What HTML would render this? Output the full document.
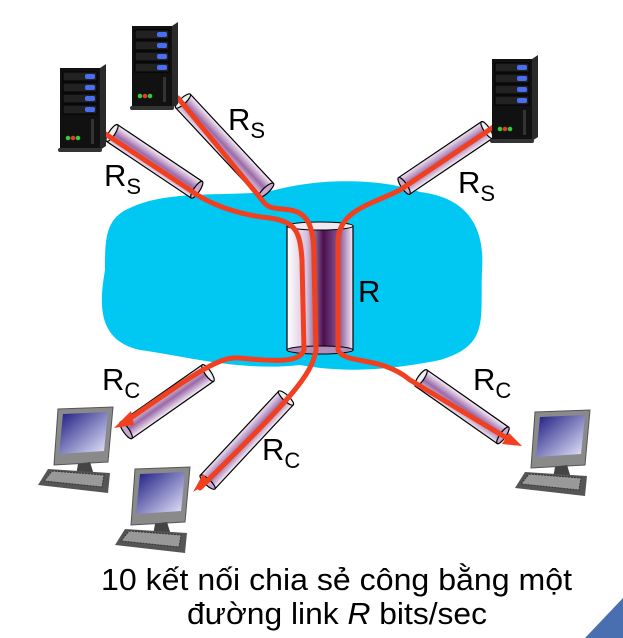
<!DOCTYPE html>
<html><head><meta charset="utf-8"><style>
html,body{margin:0;padding:0;background:#fff;}
svg{display:block;}
text{font-family:"Liberation Sans",sans-serif;fill:#000;}
</style></head><body>
<svg width="623" height="638" viewBox="0 0 623 638" xmlns="http://www.w3.org/2000/svg">
<defs>
<linearGradient id="pipe" x1="0" y1="0" x2="0" y2="1">
<stop offset="0" stop-color="#f8f0f8"/><stop offset="0.5" stop-color="#9a6aa8"/><stop offset="1" stop-color="#f0e4f0"/>
</linearGradient>
<linearGradient id="cyl" x1="0" y1="0" x2="1" y2="0">
<stop offset="0" stop-color="#fff"/><stop offset="0.3" stop-color="#d8c0dc"/><stop offset="0.55" stop-color="#4a1050"/><stop offset="0.8" stop-color="#8a5a98"/><stop offset="1" stop-color="#f4eaf4"/>
</linearGradient>
<linearGradient id="scr" x1="0" y1="0" x2="1" y2="1">
<stop offset="0" stop-color="#1a1a80"/><stop offset="1" stop-color="#e8e8ff"/>
</linearGradient>
<g id="server">
<polygon points="0,4 40,4 46,0 46,82 40,86 0,86" fill="#2a2a2a"/>
<rect x="0" y="4" width="40" height="82" fill="#111"/>
<rect x="3" y="8" width="34" height="9" fill="#222" stroke="#000"/>
<rect x="3" y="19" width="34" height="9" fill="#222" stroke="#000"/>
<rect x="3" y="30" width="34" height="9" fill="#222" stroke="#000"/>
<rect x="3" y="41" width="34" height="9" fill="#222" stroke="#000"/>
<rect x="25" y="10" width="10" height="5" rx="2" fill="#4a6ef0"/>
<rect x="25" y="21" width="10" height="5" rx="2" fill="#4a6ef0"/>
<rect x="25" y="32" width="10" height="5" rx="2" fill="#4a6ef0"/>
<rect x="25" y="43" width="10" height="5" rx="2" fill="#4a6ef0"/>
<rect x="31" y="55" width="3" height="25" fill="#333"/>
<circle cx="8" cy="74" r="2.3" fill="#3c3"/><circle cx="13" cy="74" r="2.3" fill="#e33"/><circle cx="18" cy="74" r="2.3" fill="#3c3"/>
<rect x="-2" y="84" width="44" height="4" rx="2" fill="#333"/>
</g>
<g id="pc">
<polygon points="20,2 75,0 70,55 16,58" fill="#8a8a8a" stroke="#555"/>
<polygon points="25,7 70,5 66,44 21,47" fill="url(#scr)"/>
<polygon points="40,57 52,55 56,68 38,68" fill="#444"/>
<polygon points="10,62 72,66 70,86 0,78" fill="#555"/>
<polygon points="14,64 66,68 64,80 6,74" fill="#999" stroke="#333" stroke-dasharray="2 1"/>
</g>
</defs>
<!-- cloud -->
<path d="M130,208 C170,188 240,198 275,190 C320,178 380,178 420,192 C470,198 485,230 482,270 C480,320 490,345 440,360 C380,372 340,372 300,365 C240,372 180,355 140,350 C95,340 100,300 105,270 C105,240 105,218 130,208 Z" fill="#00c8f2"/>
<!-- server pipes -->
<g stroke="#000" stroke-width="1.2">
<g transform="translate(112,133) rotate(33.8)"><rect x="0" y="-10" width="102" height="20" fill="url(#pipe)"/><ellipse cx="0" cy="0" rx="3" ry="10" fill="#eee"/><ellipse cx="102" cy="0" rx="3" ry="10" fill="#c8a8cc"/></g>
<g transform="translate(183,101) rotate(47)"><rect x="0" y="-10" width="122" height="20" fill="url(#pipe)"/><ellipse cx="0" cy="0" rx="3" ry="10" fill="#eee"/><ellipse cx="122" cy="0" rx="3" ry="10" fill="#c8a8cc"/></g>
<g transform="translate(487,130) rotate(146)"><rect x="0" y="-10" width="100" height="20" fill="url(#pipe)"/><ellipse cx="0" cy="0" rx="3" ry="10" fill="#eee"/><ellipse cx="100" cy="0" rx="3" ry="10" fill="#c8a8cc"/></g>
<g transform="translate(208,373) rotate(145)"><rect x="0" y="-10" width="100" height="20" fill="url(#pipe)"/><ellipse cx="0" cy="0" rx="3" ry="10" fill="#eee"/><ellipse cx="100" cy="0" rx="3" ry="10" fill="#c8a8cc"/></g>
<g transform="translate(286,398) rotate(133)"><rect x="0" y="-10" width="115" height="20" fill="url(#pipe)"/><ellipse cx="0" cy="0" rx="3" ry="10" fill="#eee"/><ellipse cx="115" cy="0" rx="3" ry="10" fill="#c8a8cc"/></g>
<g transform="translate(421,378) rotate(35)"><rect x="0" y="-10" width="100" height="20" fill="url(#pipe)"/><ellipse cx="0" cy="0" rx="3" ry="10" fill="#eee"/><ellipse cx="100" cy="0" rx="3" ry="10" fill="#c8a8cc"/></g>
</g>
<!-- cylinder R -->
<rect x="287" y="226" width="66" height="124" fill="url(#cyl)" stroke="#000" stroke-width="1.2"/>
<ellipse cx="320" cy="350" rx="33" ry="4" fill="#b090b8" stroke="#000"/>
<ellipse cx="320" cy="226" rx="33" ry="4" fill="#f0e8f0" stroke="#000"/>
<!-- red paths -->
<g stroke="#f04020" stroke-width="5" fill="none" stroke-linecap="round">
<path d="M104,133 L190,190 C210,205 240,215 270,218 C295,222 300,230 302,260 L304,350 C300,362 280,362 240,358 C220,356 200,370 122,424"/>
<path d="M178,98 L262,200 C268,210 278,208 290,210 C310,213 314,230 314,260 L316,350 C312,375 290,400 200,488"/>
<path d="M495,126 L400,190 C370,205 340,210 338,240 L338,350 C345,365 380,355 410,380 L515,443"/>
</g>
<g fill="#f04020">
<polygon points="114,428 131,411 134,425"/>
<polygon points="193,492 203,474 210,482"/>
<polygon points="522,446 502,444 509,433"/>
</g>
<use href="#server" x="60" y="64"/>
<use href="#server" x="132" y="22"/>
<use href="#server" x="492" y="55"/>
<use href="#pc" x="38" y="407"/>
<use href="#pc" x="115" y="467"/>
<use href="#pc" x="515" y="410"/>
<g font-size="31">
<text x="104" y="186">R<tspan font-size="22" dy="8">S</tspan></text>
<text x="228" y="130">R<tspan font-size="22" dy="8">S</tspan></text>
<text x="458" y="193">R<tspan font-size="22" dy="8">S</tspan></text>
<text x="358" y="302">R</text>
<text x="102" y="390">R<tspan font-size="22" dy="8">C</tspan></text>
<text x="262" y="460">R<tspan font-size="22" dy="8">C</tspan></text>
<text x="473" y="390">R<tspan font-size="22" dy="8">C</tspan></text>
</g>
<g font-size="31">
<text x="101" y="590" textLength="471" lengthAdjust="spacingAndGlyphs">10 kết nối chia sẻ công bằng một</text>
<text x="187" y="624" textLength="300" lengthAdjust="spacingAndGlyphs">đường link <tspan font-style="italic">R</tspan> bits/sec</text>
</g>
<polygon points="623,598 623,638 585,638" fill="#4a6fb0"/>
</svg>
</body></html>
